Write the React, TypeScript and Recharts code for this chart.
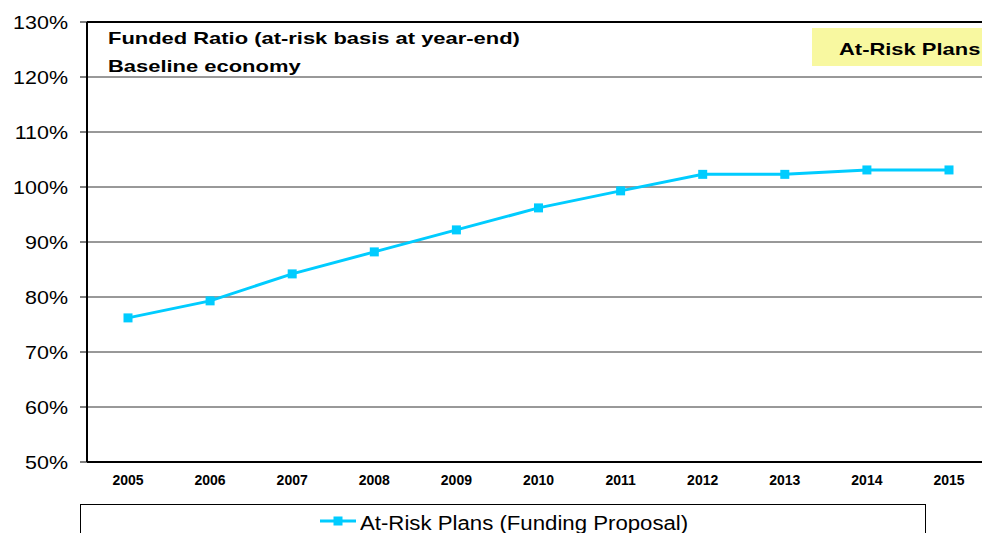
import React from "react";
import {
  LineChart,
  Line,
  XAxis,
  YAxis,
  CartesianGrid,
  ReferenceLine,
} from "recharts";

const years = ["2005", "2006", "2007", "2008", "2009", "2010", "2011", "2012", "2013", "2014", "2015"];
const fundedRatio = [76.2, 79.3, 84.2, 88.2, 92.2, 96.2, 99.3, 102.3, 102.3, 103.1, 103.1];
const yTicks = [50, 60, 70, 80, 90, 100, 110, 120, 130];
const seriesName = "At-Risk Plans (Funding Proposal)";

const data = years.map((year, i) => ({ year, ratio: fundedRatio[i] }));

const FONT = "'Liberation Sans', Arial, sans-serif";
const LINE_COLOR = "#00CCFF";

// the original chart is stretched a bit wider than it is tall
const stretched = (sx: number): React.CSSProperties => ({
  display: "inline-block",
  transform: `scaleX(${sx})`,
  transformOrigin: "left center",
  whiteSpace: "nowrap",
});

const SquareDot = (props: any) => {
  const { cx, cy } = props;
  if (cx == null || cy == null) return null;
  return <rect x={cx - 4.5} y={cy - 4.5} width={9} height={9} fill={LINE_COLOR} />;
};

const PercentTick = (props: any) => {
  const { x, y, payload } = props;
  return (
    <g transform={`translate(${x},${y})`}>
      <text
        transform="scale(1.13,1)"
        textAnchor="end"
        dy="0.35em"
        fontSize={19}
        fill="#000"
        fontFamily={FONT}
      >
        {`${payload.value}%`}
      </text>
    </g>
  );
};

const LegendBox = () => (
  <div
    style={{
      position: "absolute",
      left: 80,
      top: 504,
      width: 846,
      height: 40,
      border: "1px solid #000",
      boxSizing: "border-box",
      background: "#fff",
      fontFamily: FONT,
      fontSize: 20,
      color: "#000",
    }}
  >
    <svg width={36} height={12} style={{ position: "absolute", left: 239, top: 10 }}>
      <line x1={0} y1={6} x2={36} y2={6} stroke={LINE_COLOR} strokeWidth={3} />
      <rect x={13.5} y={1.5} width={9} height={9} fill={LINE_COLOR} />
    </svg>
    <span style={{ position: "absolute", left: 279, top: 7, lineHeight: "23px", ...stretched(1.11) }}>
      {seriesName}
    </span>
  </div>
);

export default function App() {
  return (
    <div
      style={{
        position: "fixed",
        left: 0,
        top: 0,
        width: 982,
        height: 533,
        overflow: "hidden",
        background: "#fff",
        fontFamily: FONT,
      }}
    >
      <LineChart
        width={1000}
        height={533}
        data={data}
        margin={{ top: 22, right: 10, left: 0, bottom: 0 }}
      >
        <CartesianGrid horizontal vertical={false} stroke="#333" strokeWidth={1} />
        <XAxis
          dataKey="year"
          height={71}
          padding={{ left: 41, right: 41 }}
          axisLine={{ stroke: "#000", strokeWidth: 2 }}
          tickLine={false}
          tickMargin={7}
          tick={{ fontSize: 14, fontWeight: "bold", fill: "#000", fontFamily: FONT }}
          interval={0}
        />
        <YAxis
          width={87}
          domain={[50, 130]}
          ticks={yTicks}
          axisLine={{ stroke: "#000", strokeWidth: 2 }}
          tickLine={{ stroke: "#000" }}
          tickSize={7}
          tickMargin={12}
          tick={<PercentTick />}
          interval={0}
        />
        <ReferenceLine y={130} stroke="#000" strokeWidth={2} />
        <Line
          type="linear"
          dataKey="ratio"
          name={seriesName}
          stroke={LINE_COLOR}
          strokeWidth={3}
          dot={<SquareDot />}
          activeDot={false}
          isAnimationActive={false}
        />
      </LineChart>

      <div
        style={{
          position: "absolute",
          left: 108,
          top: 25,
          fontSize: 17,
          fontWeight: "bold",
          lineHeight: "28px",
          color: "#000",
        }}
      >
        <div style={stretched(1.29)}>Funded Ratio (at-risk basis at year-end)</div>
        <br />
        <div style={{ ...stretched(1.29), marginTop: -28 }}>Baseline economy</div>
      </div>

      <div
        style={{
          position: "absolute",
          left: 812,
          top: 28,
          width: 190,
          height: 38,
          background: "#F8F8A0",
        }}
      >
        <span
          style={{
            position: "absolute",
            left: 27,
            top: 12,
            fontSize: 17,
            lineHeight: "19px",
            fontWeight: "bold",
            color: "#000",
            ...stretched(1.29),
          }}
        >
          At-Risk Plans
        </span>
      </div>

      <LegendBox />
    </div>
  );
}
